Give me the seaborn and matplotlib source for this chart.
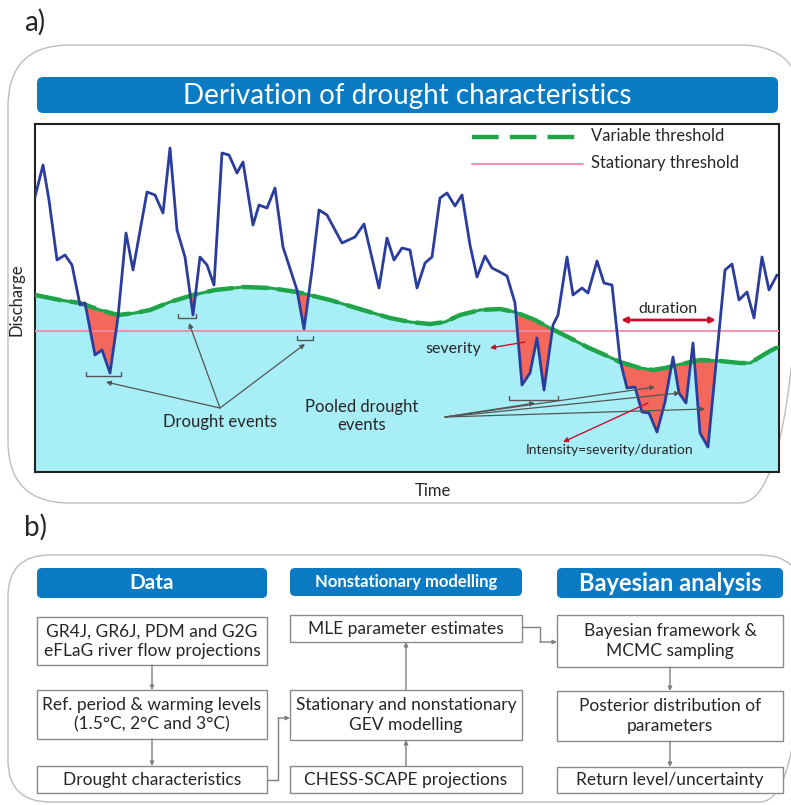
import numpy as np
import pandas as pd
import matplotlib.pyplot as plt
import seaborn as sns
from matplotlib.patches import FancyBboxPatch

# hydrograph (time and discharge, arbitrary units)
flow_time = [0, 8, 14, 22, 30, 37, 45, 50, 60, 67, 75, 83, 91, 98, 112, 120, 128, 135, 142, 150,
             158, 165, 172, 179, 187, 194, 202, 208, 218, 224, 232, 240, 248, 262, 269, 277, 284,
             292, 307, 320, 329, 344, 352, 359, 367, 375, 382, 390, 397, 405, 412, 420, 427, 435,
             442, 450, 457, 465, 472, 480, 487, 495, 502, 509, 518, 523, 532, 538, 547, 553, 562,
             569, 577, 585, 592, 600, 607, 614, 622, 630, 638, 644, 651, 658, 665, 673, 690, 697,
             704, 712, 719, 727, 734, 742]
flow_q = [275, 307, 272, 212, 217, 207, 167, 169, 117, 122, 99, 155, 239, 202, 280, 277, 259, 324,
          242, 215, 157, 215, 207, 187, 319, 317, 299, 310, 247, 267, 264, 284, 225, 182, 143, 202,
          262, 257, 229, 235, 248, 184, 234, 212, 224, 222, 184, 209, 215, 274, 279, 266, 277, 227,
          195, 216, 204, 200, 196, 169, 87, 99, 134, 82, 147, 157, 215, 177, 184, 179, 211, 189,
          187, 112, 84, 85, 60, 59, 40, 70, 115, 79, 69, 129, 39, 25, 202, 208, 172, 180, 154,
          215, 182, 197]

thr_time = [0, 25, 45, 65, 83, 100, 115, 135, 158, 180, 208, 235, 262, 295, 328, 355, 375, 395,
            410, 425, 445, 465, 480, 500, 515, 535, 552, 570, 585, 605, 618, 630, 642, 665, 685,
            705, 715, 725, 735, 743]
thr_q = [177, 172, 169, 162, 157, 159, 162, 170, 177, 182, 185, 184, 180, 172, 162, 154, 150, 148,
         150, 157, 162, 163, 160, 152, 144, 134, 125, 117, 110, 104, 102, 104, 107, 112, 111, 109,
         109, 115, 121, 125]
stationary_q = 141.5

# flow chart text
data_boxes = ["GR4J, GR6J, PDM and G2G\neFLaG river flow projections",
              "Ref. period & warming levels\n(1.5°C, 2°C and 3°C)",
              "Drought characteristics"]
model_boxes = ["MLE parameter estimates",
               "Stationary and nonstationary\nGEV modelling",
               "CHESS-SCAPE projections"]
bayes_boxes = ["Bayesian framework &\nMCMC sampling",
               "Posterior distribution of\nparameters",
               "Return level/uncertainty"]
headers = ["Data", "Nonstationary modelling", "Bayesian analysis"]

BLUE_BAR = '#0a7bc2'
FLOW = '#2b3d9c'
GREEN = '#1fa44a'
CYAN = '#a8eef6'
RED_FILL = '#f4675b'
PINK = '#f28aa8'
CRIMSON = '#c8102e'
GREY = '#555555'
TXT = '#262626'

sns.set_style('white')
plt.rcParams['font.family'] = ['Lato', 'DejaVu Sans']

fig = plt.figure(figsize=(7.91, 8.05), dpi=100)

# background axes in pixel units for the panels and the flow chart
bg = fig.add_axes([0, 0, 1, 1])
bg.set_xlim(0, 791)
bg.set_ylim(805, 0)
bg.axis('off')


def rbox(x0, y0, x1, y1, r, **kw):
    bg.add_patch(FancyBboxPatch((x0, y0), x1 - x0, y1 - y0,
                                boxstyle=f'round,pad=0,rounding_size={r}', **kw))


def text_box(x0, y0, x1, y1, txt):
    bg.add_patch(plt.Rectangle((x0, y0), x1 - x0, y1 - y0, fc='white', ec='#8a8a8a', lw=1))
    bg.text((x0 + x1) / 2, (y0 + y1) / 2, txt, ha='center', va='center', fontsize=12.5,
            color=TXT, linespacing=1.25)


def arrow(p0, p1, ax=bg, **kw):
    ax.annotate('', xy=p1, xytext=p0,
                arrowprops=dict(arrowstyle='-|>', color='#808080', lw=1, mutation_scale=6,
                                shrinkA=0, shrinkB=0, **kw))


# ---- panel a frame
bg.text(24, 22, 'a)', fontsize=20, va='center', ha='left', color=TXT)
rbox(8, 45, 802, 503, 62, fc='none', ec='#bdbdbd', lw=1)
rbox(37, 77, 778, 113, 6, fc=BLUE_BAR, ec='none')
bg.text(407, 96, 'Derivation of drought characteristics', color='white', fontsize=20,
        ha='center', va='center')
bg.text(17, 300, 'Discharge', rotation=90, ha='center', va='center', fontsize=12, color=TXT)
bg.text(433, 491, 'Time', ha='center', va='center', fontsize=12, color=TXT)

# ---- hydrograph
ax = fig.add_axes([35 / 791, 1 - 472 / 805, 744 / 791, 348 / 805])
flow_df = pd.DataFrame({'time': flow_time, 'discharge': flow_q})
thr_df = pd.DataFrame({'time': thr_time, 'discharge': thr_q})

ax.fill_between(thr_time, 0, thr_q, color=CYAN, lw=0, zorder=1)
grid = np.union1d(flow_time, thr_time)
f_g = np.interp(grid, flow_time, flow_q)
t_g = np.interp(grid, thr_time, thr_q)
ax.fill_between(grid, f_g, t_g, where=f_g < t_g, interpolate=True, color=RED_FILL, lw=0, zorder=2)
ax.axhline(stationary_q, color=PINK, lw=1.3, zorder=3)
sns.lineplot(data=thr_df, x='time', y='discharge', ax=ax, color=GREEN, lw=2.2, zorder=4,
             estimator=None)
ax.plot(thr_time, thr_q, color=GREEN, lw=3.2, dashes=(6, 2), zorder=4)
sns.lineplot(data=flow_df, x='time', y='discharge', ax=ax, color=FLOW, lw=2, zorder=5,
             estimator=None)
ax.set_xlim(0, 744)
ax.set_ylim(0, 348)
ax.set_xticks([])
ax.set_yticks([])
ax.set_xlabel('')
ax.set_ylabel('')
for s in ax.spines.values():
    s.set_color('#222222')
    s.set_linewidth(1.5)


def P(x, y):
    # picture pixel -> hydrograph coordinates
    return (x - 35, 472 - y)


# legend
ax.plot(*zip(P(472, 137), P(583, 137)), color=GREEN, lw=3.2, dashes=(6, 2.5), zorder=6)
ax.plot(*zip(P(472, 164), P(583, 164)), color=PINK, lw=1.3, zorder=6)
ax.text(*P(591, 136), 'Variable threshold', fontsize=12, va='center', ha='left', color=TXT)
ax.text(*P(591, 163), 'Stationary threshold', fontsize=12, va='center', ha='left', color=TXT)

# brackets under the events
for x0, x1, y in [(86, 121, 376), (178, 196, 318), (297, 313, 340), (509, 558, 400)]:
    xs, ys = zip(P(x0, y - 4), P(x0, y), P(x1, y), P(x1, y - 4))
    ax.plot(xs, ys, color='#555555', lw=1, zorder=6)

ga = dict(arrowstyle='-|>', color=GREY, lw=0.9, mutation_scale=7, shrinkA=0, shrinkB=0)
for tip in [(106, 382), (189, 323), (305, 344)]:
    ax.annotate('', xy=P(*tip), xytext=P(220, 408), arrowprops=ga, zorder=7)
ax.text(*P(220, 422), 'Drought events', fontsize=12, ha='center', va='center', color=TXT)
ax.text(*P(362, 416), 'Pooled drought\nevents', fontsize=12, ha='center', va='center',
        color=TXT, linespacing=1.15)
for tip in [(535, 403), (655, 387), (680, 393), (705, 409)]:
    ax.annotate('', xy=P(*tip), xytext=P(445, 417), arrowprops=ga, zorder=7)

ra = dict(arrowstyle='-|>', color=CRIMSON, lw=1, mutation_scale=7, shrinkA=0, shrinkB=0)
ax.annotate('', xy=P(490, 348), xytext=P(525, 342), arrowprops=ra, zorder=7)
ax.text(*P(453, 349), 'severity', fontsize=11.5, ha='center', va='center', color=TXT)
ax.annotate('', xy=P(563, 442), xytext=P(648, 403), arrowprops=ra, zorder=7)
ax.text(*P(610, 450), 'Intensity=severity/duration', fontsize=10, ha='center', va='center',
        color=TXT)
ax.annotate('', xy=P(716, 320), xytext=P(621, 320), zorder=7,
            arrowprops=dict(arrowstyle='<|-|>', color=CRIMSON, lw=2, mutation_scale=8,
                            shrinkA=0, shrinkB=0))
ax.text(*P(668, 309), 'duration', fontsize=11.5, ha='center', va='center', color=TXT)

# ---- panel b flow chart
bg.text(24, 527, 'b)', fontsize=20, va='center', ha='left', color=TXT)
rbox(8, 555, 802, 802, 42, fc='none', ec='#bdbdbd', lw=1)

cols = [(37, 267), (290, 522), (557, 783)]
head_y = [(568, 598), (568, 596), (568, 598)]
head_fs = [15, 12, 17]
for (x0, x1), (y0, y1), h, fs in zip(cols, head_y, headers, head_fs):
    rbox(x0, y0, x1, y1, 5, fc=BLUE_BAR, ec='none')
    bg.text((x0 + x1) / 2, (y0 + y1) / 2, h, color='white', fontsize=fs, fontweight='bold',
            ha='center', va='center')

rows_lr = [(617, 665), (690, 739), (766, 793)]
rows_mid = [(615, 642), (690, 740), (766, 793)]
rows_rt = [(615, 667), (691, 741), (767, 793)]
for (y0, y1), t in zip(rows_lr, data_boxes):
    text_box(37, y0, 267, y1, t)
for (y0, y1), t in zip(rows_mid, model_boxes):
    text_box(290, y0, 522, y1, t)
for (y0, y1), t in zip(rows_rt, bayes_boxes):
    text_box(557, y0, 783, y1, t)

# connectors
arrow((152, 665), (152, 690))
arrow((152, 739), (152, 766))
arrow((406, 766), (406, 740))
arrow((406, 690), (406, 642))
arrow((670, 667), (670, 691))
arrow((670, 741), (670, 767))
bg.plot([267, 278, 278], [780, 780, 718], color='#808080', lw=1)
arrow((278, 718), (290, 718))
bg.plot([522, 540, 540], [627, 627, 642], color='#808080', lw=1)
arrow((540, 642), (557, 642))

fig.savefig('out.png', dpi=100)
